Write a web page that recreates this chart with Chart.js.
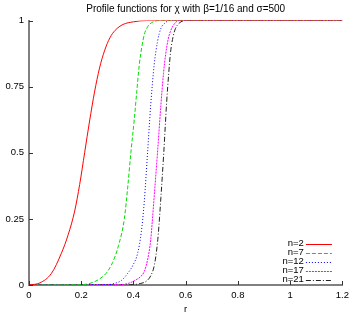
<!DOCTYPE html>
<html>
<head>
<meta charset="utf-8">
<script src="https://cdn.jsdelivr.net/npm/chart.js@4"></script>
<style>
  html, body { margin: 0; padding: 0; background: #fff; }
  #wrap { width: 354px; height: 315px; }
</style>
</head>
<body>
<div id="wrap"><canvas id="profileChart"></canvas></div>
<script>
// values
const labels = ['n=2', 'n=7', 'n=12', 'n=17', 'n=21'];

const rN2  = [0, 0.042, 0.086, 0.124, 0.15, 0.175, 0.194, 0.213, 0.232, 0.251, 0.27, 0.289, 0.31, 0.33, 0.36, 0.4, 0.45, 1.2];
const vN2  = [0, 0.008, 0.044, 0.12, 0.19, 0.28, 0.38, 0.5, 0.62, 0.73, 0.82, 0.885, 0.935, 0.963, 0.985, 0.995, 1, 1];

const rN7  = [0, 0.2, 0.25, 0.28, 0.3, 0.32, 0.343, 0.365, 0.378, 0.39, 0.403, 0.413, 0.422, 0.432, 0.441, 0.455, 0.47, 0.5, 1.2];
const vN7  = [0, 0.001, 0.012, 0.03, 0.05, 0.085, 0.15, 0.25, 0.37, 0.5, 0.625, 0.735, 0.83, 0.9, 0.945, 0.978, 0.992, 1, 1];

const rN12 = [0, 0.3, 0.327, 0.355, 0.378, 0.398, 0.416, 0.43, 0.441, 0.454, 0.466, 0.479, 0.492, 0.505, 0.52, 0.54, 1.2];
const vN12 = [0, 0.001, 0.006, 0.018, 0.044, 0.075, 0.12, 0.2, 0.31, 0.5, 0.68, 0.83, 0.92, 0.97, 0.99, 1, 1];

const rN17 = [0, 0.35, 0.38, 0.403, 0.425, 0.441, 0.455, 0.466, 0.472, 0.479, 0.492, 0.505, 0.515, 0.523, 0.533, 0.542, 0.555, 0.575, 1.2];
const vN17 = [0, 0.001, 0.006, 0.016, 0.03, 0.05, 0.1, 0.17, 0.24, 0.33, 0.5, 0.68, 0.8, 0.87, 0.93, 0.96, 0.985, 1, 1];

const rN21 = [0, 0.39, 0.428, 0.45, 0.466, 0.48, 0.492, 0.498, 0.505, 0.516, 0.527, 0.535, 0.542, 0.552, 0.561, 0.575, 0.6, 1.2];
const vN21 = [0, 0.001, 0.006, 0.015, 0.035, 0.075, 0.16, 0.23, 0.33, 0.5, 0.69, 0.8, 0.88, 0.94, 0.97, 0.99, 1, 1];

const xTicks = [0, 0.2, 0.4, 0.6, 0.8, 1, 1.2];
const yTicks = [0, 0.25, 0.5, 0.75, 1];

const series = [[rN2, vN2], [rN7, vN7], [rN12, vN12], [rN17, vN17], [rN21, vN21]];
const colors = ['#ff0000', '#00dd00', '#0000ff', '#ff00ff', '#222222'];
const dashes = [[], [4, 2], [1, 2], [2, 1], [5, 2, 1, 2]];

const FONT = "'Liberation Sans', Arial, sans-serif";
const AXIS = '#808080';

const toPoints = (r, v) => r.map((x, i) => ({ x: x, y: v[i] }));

// inward tick marks like gnuplot
const innerTicks = {
    id: 'innerTicks',
    afterDraw(chart) {
        const { ctx, chartArea, scales } = chart;
        ctx.save();
        ctx.strokeStyle = '#333';
        ctx.lineWidth = 1;
        ctx.beginPath();
        xTicks.forEach(t => {
            const px = Math.round(scales.x.getPixelForValue(t)) + 0.5;
            ctx.moveTo(px, chartArea.bottom);
            ctx.lineTo(px, chartArea.bottom - 4);
        });
        yTicks.forEach(t => {
            const py = Math.round(scales.y.getPixelForValue(t)) + 0.5;
            ctx.moveTo(chartArea.left, py);
            ctx.lineTo(chartArea.left + 4, py);
        });
        ctx.stroke();
        ctx.restore();
    }
};

// key in the lower right corner of the plot
const cornerKey = {
    id: 'cornerKey',
    afterDraw(chart) {
        const { ctx, chartArea } = chart;
        ctx.save();
        ctx.font = '9.5px ' + FONT;
        ctx.textAlign = 'right';
        ctx.textBaseline = 'middle';
        chart.data.datasets.forEach((ds, i) => {
            const y = chartArea.bottom - 41.5 + i * 9;
            ctx.fillStyle = '#000';
            ctx.fillText(ds.label, chartArea.right - 38.5, y);
            ctx.strokeStyle = ds.borderColor;
            ctx.lineWidth = 1;
            ctx.setLineDash(ds.borderDash);
            ctx.beginPath();
            ctx.moveTo(chartArea.right - 36.5, Math.round(y) + 0.5);
            ctx.lineTo(chartArea.right - 10.5, Math.round(y) + 0.5);
            ctx.stroke();
        });
        ctx.restore();
    }
};

const ctx = document.getElementById('profileChart');
new Chart(ctx, {
    type: 'line',
    data: {
        datasets: series.map((s, i) => ({
            label: labels[i],
            data: toPoints(s[0], s[1]),
            borderColor: colors[i],
            borderDash: dashes[i],
            borderWidth: 1,
            pointRadius: 0,
            fill: false,
            cubicInterpolationMode: 'monotone'
        }))
    },
    options: {
        responsive: true,
        maintainAspectRatio: false,
        animation: false,
        layout: { padding: { left: 0, right: 9, top: 0, bottom: 0 } },
        plugins: {
            legend: { display: false },
            tooltip: { enabled: false },
            title: {
                display: true,
                fullSize: false,
                text: 'Profile functions for \u03c7 with \u03b2=1/16 and \u03c3=500',
                color: '#000',
                font: { family: FONT, size: 10, weight: 'normal' },
                padding: { top: 3, bottom: 5.5 }
            }
        },
        scales: {
            x: {
                type: 'linear',
                min: 0,
                max: 1.2,
                afterBuildTicks: (scale) => { scale.ticks = xTicks.map(v => ({ value: v })); },
                ticks: {
                    color: '#000',
                    font: { family: FONT, size: 9.5 },
                    padding: 5,
                    maxRotation: 0,
                    callback: (v) => String(+v.toFixed(2))
                },
                grid: { drawOnChartArea: false, drawTicks: false },
                border: { color: AXIS, width: 2 },
                title: {
                    display: true,
                    text: 'r',
                    color: '#000',
                    font: { family: FONT, size: 9.5 },
                    padding: { top: 2, bottom: 0 }
                },
                afterFit: (scale) => { scale.height = 30; }
            },
            y: {
                min: 0,
                max: 1,
                afterBuildTicks: (scale) => { scale.ticks = yTicks.map(v => ({ value: v })); },
                ticks: {
                    color: '#000',
                    font: { family: FONT, size: 9.5 },
                    padding: 5,
                    callback: (v) => String(+v.toFixed(2))
                },
                grid: { drawOnChartArea: false, drawTicks: false },
                border: { color: AXIS, width: 2 },
                afterFit: (scale) => { scale.width = 29; }
            }
        }
    },
    plugins: [innerTicks, cornerKey]
});
</script>
</body>
</html>
